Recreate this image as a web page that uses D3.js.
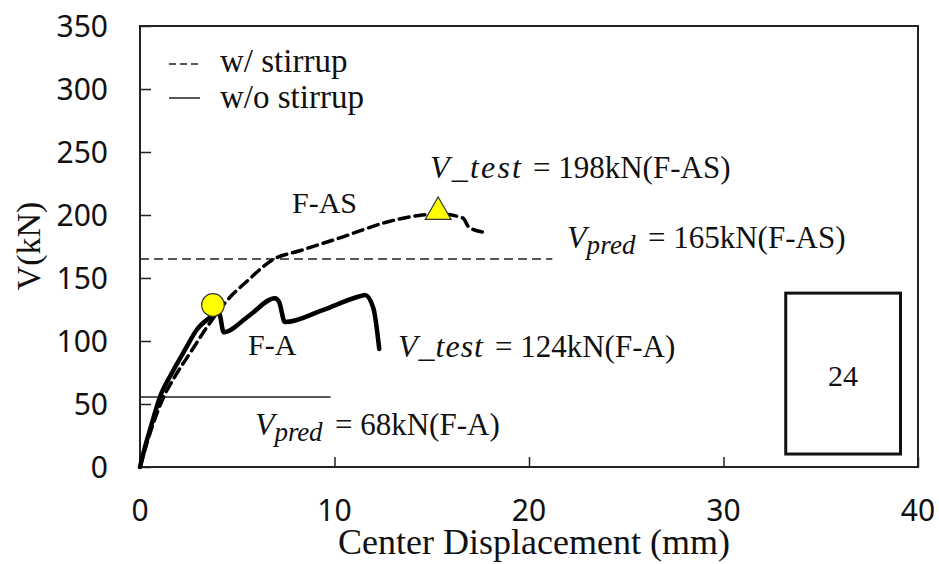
<!DOCTYPE html>
<html>
<head>
<meta charset="utf-8">
<script src="https://cdn.jsdelivr.net/npm/d3@7"></script>
<style>
  body { margin: 0; background: #fff; }
  .tick-label { font-family: "Noto Sans", sans-serif; font-size: 30px; fill: #111; }
  .serif { font-family: "Liberation Serif", "Times New Roman", serif; fill: #111; }
</style>
</head>
<body>
<svg width="939" height="564"></svg>
<script>
// F-A (w/o stirrup) load-displacement curve
var faDisp = [0, 0.25, 0.51, 1.03, 1.63, 2.31, 2.91, 3.75, 4.0, 4.1, 4.3, 5.6, 6.94, 7.15, 7.45, 9.4, 11.3, 11.57, 12.0, 12.3];
var faLoad = [0, 15.5, 29.4, 55.8, 74.4, 92.9, 108.7, 120.6, 124, 121, 107, 120, 134, 131, 115, 124.6, 135.5, 136.5, 126, 93.7];

// F-AS (w/ stirrup) load-displacement curve
var fasDisp = [0, 0.5, 1.2, 1.8, 2.6, 3.34, 3.7, 4.73, 5.4, 6.8, 8.3, 10.4, 12.7, 14.5, 15.3, 16.6, 16.9, 17.6];
var fasLoad = [0, 26, 55, 72, 91, 108.7, 116.7, 136.5, 146, 164.3, 172, 182.5, 194.4, 200, 201, 197.6, 190.5, 186.5];

// predicted shear reference lines [load, end displacement]
var predFA = [55.6, 9.8];
var predFAS = [165, 21.2];

// markers: peak of F-A and F-AS
var peakFA = [3.75, 128.6];
var peakFAS = [15.33, 202.4];

// section box [x0, x1, v0, v1] and its label
var boxExtent = [33.2, 39.1, 10.3, 138];
var boxLabel = "24";

var xTicks = [0, 10, 20, 30, 40];
var yTicks = [0, 50, 100, 150, 200, 250, 300, 350];

var svg = d3.select("svg");
var pLeft = 140, pRight = 918, pTop = 26, pBottom = 467;

var x = d3.scaleLinear().domain([0, 40]).range([pLeft, pRight]);
var y = d3.scaleLinear().domain([0, 350]).range([pBottom, pTop]);

// frame
svg.append("rect")
  .attr("x", pLeft).attr("y", pTop)
  .attr("width", pRight - pLeft).attr("height", pBottom - pTop)
  .attr("fill", "none").attr("stroke", "#222").attr("stroke-width", 2);

// inward ticks
var xAxis = svg.append("g")
  .attr("transform", "translate(0," + pBottom + ")")
  .call(d3.axisTop(x).tickValues(xTicks).tickSize(10).tickFormat(""));
var yAxis = svg.append("g")
  .attr("transform", "translate(" + pLeft + ",0)")
  .call(d3.axisRight(y).tickValues(yTicks).tickSize(11).tickFormat(""));
[xAxis, yAxis].forEach(function (g) {
  g.select(".domain").remove();
  g.selectAll("line").attr("stroke", "#222").attr("stroke-width", 1.5);
});

// tick labels
svg.selectAll(".xlab")
  .data(xTicks)
  .enter().append("text")
    .attr("class", "tick-label")
    .attr("x", function (d) { return x(d); })
    .attr("y", 521)
    .attr("text-anchor", "middle")
    .text(function (d) { return d; });

svg.selectAll(".ylab")
  .data(yTicks)
  .enter().append("text")
    .attr("class", "tick-label")
    .attr("x", 108)
    .attr("y", function (d) { return y(d) + 11; })
    .attr("text-anchor", "end")
    .text(function (d) { return d; });

// axis titles
svg.append("text")
  .attr("class", "serif")
  .attr("x", 534).attr("y", 554)
  .attr("text-anchor", "middle")
  .attr("font-size", 36)
  .text("Center Displacement (mm)");

svg.append("text")
  .attr("class", "serif")
  .attr("transform", "translate(40,246) rotate(-90)")
  .attr("text-anchor", "middle")
  .attr("font-size", 34)
  .text("V(kN)");

// reference lines
svg.append("line")
  .attr("x1", x(0)).attr("x2", x(predFAS[1]))
  .attr("y1", y(predFAS[0])).attr("y2", y(predFAS[0]))
  .attr("stroke", "#222").attr("stroke-width", 1.5)
  .attr("stroke-dasharray", "9,5");

svg.append("line")
  .attr("x1", x(0)).attr("x2", x(predFA[1]))
  .attr("y1", y(predFA[0])).attr("y2", y(predFA[0]))
  .attr("stroke", "#222").attr("stroke-width", 1.5);

// curves
var line = d3.line()
  .x(function (d) { return x(d[0]); })
  .y(function (d) { return y(d[1]); })
  .curve(d3.curveMonotoneX);

var faData = faDisp.map(function (d, i) { return [d, faLoad[i]]; });
var fasData = fasDisp.map(function (d, i) { return [d, fasLoad[i]]; });

svg.append("path")
  .datum(fasData)
  .attr("d", line)
  .attr("fill", "none").attr("stroke", "#000")
  .attr("stroke-width", 3.5).attr("stroke-dasharray", "10,6").attr("stroke-linecap", "round");

svg.append("path")
  .datum(faData)
  .attr("d", line)
  .attr("fill", "none").attr("stroke", "#000")
  .attr("stroke-width", 4.5).attr("stroke-linejoin", "round").attr("stroke-linecap", "round");

// markers
svg.append("circle")
  .attr("cx", x(peakFA[0])).attr("cy", y(peakFA[1])).attr("r", 11.3)
  .attr("fill", "#ffff00").attr("stroke", "#333").attr("stroke-width", 1.2);

svg.append("path")
  .attr("transform", "translate(" + x(peakFAS[0]) + "," + y(peakFAS[1]) + ")")
  .attr("d", d3.symbol().type(d3.symbolTriangle).size(290)())
  .attr("fill", "#ffff00").attr("stroke", "#333").attr("stroke-width", 1.2);

// legend
svg.append("line")
  .attr("x1", 169).attr("x2", 198).attr("y1", 64).attr("y2", 64)
  .attr("stroke", "#222").attr("stroke-width", 1.5).attr("stroke-dasharray", "7,4");
svg.append("line")
  .attr("x1", 169).attr("x2", 200).attr("y1", 98).attr("y2", 98)
  .attr("stroke", "#222").attr("stroke-width", 1.5);
svg.append("text").attr("class", "serif").attr("x", 220).attr("y", 72)
  .attr("font-size", 33).text("w/ stirrup");
svg.append("text").attr("class", "serif").attr("x", 220).attr("y", 108)
  .attr("font-size", 33).text("w/o stirrup");

// specimen labels
svg.append("text").attr("class", "serif").attr("x", 292).attr("y", 213)
  .attr("font-size", 30).text("F-AS");
svg.append("text").attr("class", "serif").attr("x", 248).attr("y", 355)
  .attr("font-size", 30).text("F-A");

// V_test / V_pred annotations
function vTest(x0, xEq, baseline, value) {
  svg.append("text").attr("class", "serif").attr("x", x0).attr("y", baseline)
    .attr("font-size", 32).attr("font-style", "italic")
    .attr("textLength", xEq - x0 - 12).attr("lengthAdjust", "spacing")
    .text("V_test");
  svg.append("text").attr("class", "serif").attr("x", xEq).attr("y", baseline)
    .attr("font-size", 31).text("= " + value);
}
function vPred(x0, xEq, baseline, value) {
  var t = svg.append("text").attr("class", "serif").attr("x", x0).attr("y", baseline);
  t.append("tspan").attr("font-size", 32).attr("font-style", "italic").text("V");
  t.append("tspan").attr("font-size", 27).attr("font-style", "italic").attr("dy", 6)
    .attr("textLength", xEq - x0 - 32).attr("lengthAdjust", "spacing")
    .text("pred");
  svg.append("text").attr("class", "serif").attr("x", xEq).attr("y", baseline)
    .attr("font-size", 31).text("= " + value);
}

vTest(430, 533, 178, "198kN(F-AS)");
vPred(567, 648, 248, "165kN(F-AS)");
vTest(398, 495, 357, "124kN(F-A)");
vPred(255, 335, 435, "68kN(F-A)");

// section box
svg.append("rect")
  .attr("x", x(boxExtent[0])).attr("y", y(boxExtent[3]))
  .attr("width", x(boxExtent[1]) - x(boxExtent[0]))
  .attr("height", y(boxExtent[2]) - y(boxExtent[3]))
  .attr("fill", "none").attr("stroke", "#111").attr("stroke-width", 3);
svg.append("text").attr("class", "serif")
  .attr("x", (x(boxExtent[0]) + x(boxExtent[1])) / 2).attr("y", 386)
  .attr("text-anchor", "middle").attr("font-size", 30)
  .text(boxLabel);
</script>
</body>
</html>
